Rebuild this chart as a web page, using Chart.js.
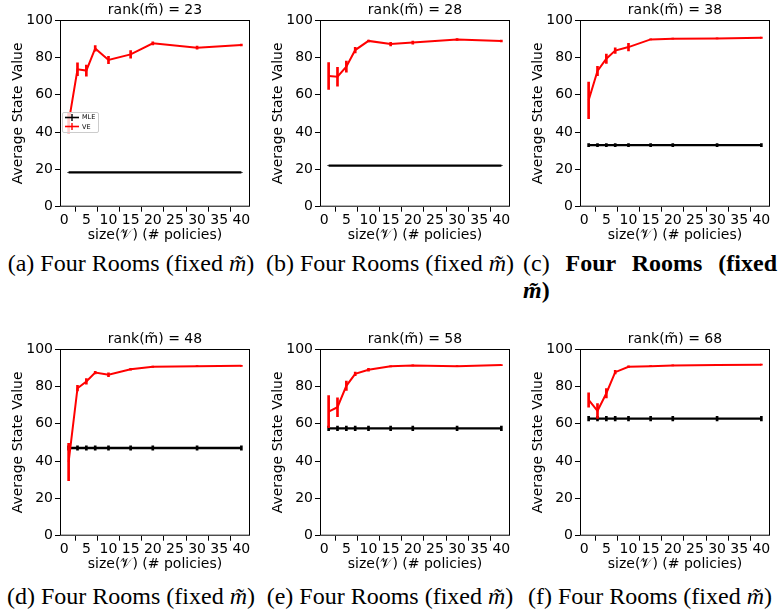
<!DOCTYPE html>
<html>
<head>
<meta charset="utf-8">
<script src="https://cdn.jsdelivr.net/npm/chart.js@4.4.0/dist/chart.umd.min.js"></script>
<style>
  body { margin: 0; width: 779px; height: 613px; overflow: hidden; background: #fff; position: relative; }
  .panel { position: absolute; width: 260px; height: 250px; }
  .cap { position: absolute; font-family: "Liberation Serif", "DejaVu Serif", serif; font-size: 24px; line-height: 27px; color: #000; white-space: nowrap; text-align: center; width: 260px; }
  .cap.wrap { white-space: normal; text-align: justify; width: 254px; text-align-last: left; }
  .legend { position: absolute; left: 62px; top: 112px; width: 37px; height: 21px; border: 1px solid #ccc; border-radius: 2px; background: rgba(255,255,255,0.8); font-family: "DejaVu Sans", sans-serif; font-size: 6.5px; box-sizing: border-box; }
  .legend div { height: 9.5px; line-height: 9.5px; white-space: nowrap; }
  .legend svg { vertical-align: middle; margin: 0 3px 0 2px; }
</style>
</head>
<body>
<canvas id="c23" class="panel" width="260" height="250" style="left:0;top:0"></canvas>
<canvas id="c28" class="panel" width="260" height="250" style="left:260px;top:0"></canvas>
<canvas id="c38" class="panel" width="260" height="250" style="left:520px;top:0"></canvas>
<canvas id="c48" class="panel" width="260" height="250" style="left:0;top:329px"></canvas>
<canvas id="c58" class="panel" width="260" height="250" style="left:260px;top:329px"></canvas>
<canvas id="c68" class="panel" width="260" height="250" style="left:520px;top:329px"></canvas>

<div class="legend">
  <div><svg width="14" height="7"><line x1="0" y1="3.5" x2="14" y2="3.5" stroke="black" stroke-width="1.6"/><line x1="7" y1="0" x2="7" y2="7" stroke="black" stroke-width="1.4"/></svg>MLE</div>
  <div><svg width="14" height="7"><line x1="0" y1="3.5" x2="14" y2="3.5" stroke="red" stroke-width="1.6"/><line x1="7" y1="0" x2="7" y2="7" stroke="red" stroke-width="1.4"/></svg>VE</div>
</div>

<div class="cap" style="left:1px;top:250px">(a) Four Rooms (fixed <i>m&#771;</i>)</div>
<div class="cap" style="left:260px;top:250px">(b) Four Rooms (fixed <i>m&#771;</i>)</div>
<div class="cap wrap" style="left:523px;top:250px">(c) <b>Four Rooms (fixed <i>m&#771;</i>)</b></div>
<div class="cap" style="left:1px;top:583px">(d) Four Rooms (fixed <i>m&#771;</i>)</div>
<div class="cap" style="left:260px;top:583px">(e) Four Rooms (fixed <i>m&#771;</i>)</div>
<div class="cap" style="left:520px;top:583px">(f) Four Rooms (fixed <i>m&#771;</i>)</div>

<script>
// number of policies on the x axis
var sizes = [1, 3, 5, 7, 10, 15, 20, 30, 40];
var xTicks = [0, 5, 10, 15, 20, 25, 30, 35, 40];
var yTicks = [0, 20, 40, 60, 80, 100];

// MLE (flat) per rank
var mle23 = [18.4, 18.4, 18.4, 18.4, 18.4, 18.4, 18.4, 18.4, 18.4];
var mle28 = [22.0, 22.0, 22.0, 22.0, 22.0, 22.0, 22.0, 22.0, 22.0];
var mle38 = [33.0, 33.0, 33.0, 33.0, 33.0, 33.0, 33.0, 33.0, 33.0];
var mle48 = [47.0, 47.0, 47.0, 47.0, 47.0, 47.0, 47.0, 47.0, 47.0];
var mle58 = [57.5, 57.5, 57.5, 57.5, 57.5, 57.5, 57.5, 57.5, 57.5];
var mle68 = [62.7, 62.7, 62.7, 62.7, 62.7, 62.7, 62.7, 62.7, 62.7];
var mleErr23 = [0, 0, 0, 0, 0, 0, 0, 0, 0];
var mleErr28 = [0, 0, 0, 0, 0, 0, 0, 0, 0];
var mleErr38 = [0.8, 0.8, 0.8, 0.8, 0.8, 0.8, 0.8, 0.8, 0.8];
var mleErr48 = [1.2, 1.2, 1.2, 1.2, 1.2, 1.2, 1.2, 1.2, 1.2];
var mleErr58 = [1.2, 1.2, 1.2, 1.2, 1.2, 1.2, 1.2, 1.2, 1.2];
var mleErr68 = [1.2, 1.2, 1.2, 1.2, 1.2, 1.2, 1.2, 1.2, 1.2];

// VE mean and error per rank
var ve23 = [45.0, 73.6, 72.9, 84.8, 78.6, 81.6, 87.5, 85.2, 86.6];
var ve28 = [70.0, 69.6, 75.0, 83.9, 88.8, 87.1, 87.9, 89.5, 88.8];
var ve38 = [57.0, 72.7, 79.3, 83.6, 85.5, 89.6, 90.0, 90.1, 90.5];
var ve48 = [39.5, 79.0, 82.6, 87.4, 86.2, 89.2, 90.5, 90.8, 91.0];
var ve58 = [66.5, 68.8, 80.3, 86.7, 88.9, 90.7, 91.2, 90.8, 91.4];
var ve68 = [72.7, 66.8, 76.3, 87.6, 90.5, 90.8, 91.2, 91.4, 91.6];
var veErr23 = [5.5, 3.4, 3.0, 1.5, 2.0, 2.0, 0.8, 0.8, 0.5];
var veErr28 = [7.2, 5.0, 3.0, 1.5, 0.5, 1.0, 0.8, 0.5, 0.5];
var veErr38 = [9.8, 2.5, 2.5, 1.5, 2.0, 0.3, 0.3, 0.3, 0.3];
var veErr48 = [10.0, 1.5, 1.5, 0.7, 1.0, 0.5, 0.3, 0.3, 0.3];
var veErr58 = [8.6, 5.0, 2.5, 1.0, 0.8, 0.3, 0.3, 0.3, 0.3];
var veErr68 = [3.8, 4.0, 2.5, 1.0, 0.5, 0.3, 0.3, 0.3, 0.3];

var font = "'DejaVu Sans', sans-serif";

var framePlugin = {
    id: 'frame',
    afterDraw: function(chart) {
        var a = chart.chartArea;
        var ctx = chart.ctx;
        ctx.save();
        ctx.strokeStyle = 'black';
        ctx.lineWidth = 1;
        ctx.strokeRect(a.left + 0.5, a.top + 0.5, a.right - a.left - 1, a.bottom - a.top - 1);
        ctx.restore();
    }
};

function points(vals) {
    return sizes.map(function(x, i) { return {x: x, y: vals[i]}; });
}

function errors(vals, errs) {
    return sizes.map(function(x, i) { return {x: x, y: [vals[i] - errs[i], vals[i] + errs[i]]}; });
}

function createPanel(canvasId, rank, mle, mleErr, ve, veErr) {
    var ctx = document.getElementById(canvasId).getContext('2d');
    return new Chart(ctx, {
        type: 'line',
        data: {
            datasets: [
                { label: 'MLE', data: points(mle), xAxisID: 'x', yAxisID: 'y', borderColor: 'black', borderWidth: 2.4, pointRadius: 0, order: 2 },
                { type: 'bar', label: 'MLE err', data: errors(mle, mleErr), xAxisID: 'x', yAxisID: 'y', backgroundColor: 'black', barThickness: 2, grouped: false, order: 2 },
                { label: 'VE', data: points(ve), xAxisID: 'x', yAxisID: 'y', borderColor: 'red', borderWidth: 2, pointRadius: 0, order: 1 },
                { type: 'bar', label: 'VE err', data: errors(ve, veErr), xAxisID: 'x', yAxisID: 'y', backgroundColor: 'red', barThickness: 2, grouped: false, order: 1 }
            ]
        },
        options: {
            responsive: false,
            animation: false,
            layout: { padding: { left: 0, right: 10, top: 0, bottom: 0 } },
            plugins: {
                legend: { display: false },
                tooltip: { enabled: false }
            },
            scales: {
                x: {
                    type: 'linear',
                    min: -0.95,
                    max: 41.95,
                    offset: false,
                    afterBuildTicks: function(scale) {
                        scale.ticks = xTicks.map(function(v) { return {value: v}; });
                    },
                    afterFit: function(scale) { scale.height = 43.3; },
                    grid: { display: true, drawOnChartArea: false, drawTicks: true, tickLength: 5, color: 'black' },
                    border: { display: false },
                    ticks: { autoSkip: false, maxRotation: 0, padding: 0, color: 'black', font: { family: font, size: 14 } },
                    title: {
                        display: true,
                        text: 'size(\uD835\uDCB1) (# policies)',
                        color: 'black',
                        font: { family: font, size: 14, lineHeight: 1.2 },
                        padding: { top: 0, bottom: 6.6 }
                    }
                },
                y: {
                    min: 0,
                    max: 100,
                    afterBuildTicks: function(scale) {
                        scale.ticks = yTicks.map(function(v) { return {value: v}; });
                    },
                    afterFit: function(scale) { scale.width = 60; },
                    grid: { display: true, drawOnChartArea: false, drawTicks: true, tickLength: 5, color: 'black' },
                    border: { display: false },
                    ticks: { padding: 2, color: 'black', font: { family: font, size: 14 } },
                    title: {
                        display: true,
                        text: 'Average State Value',
                        color: 'black',
                        font: { family: font, size: 14, lineHeight: 1.2 },
                        padding: { top: 9.6, bottom: 0 }
                    }
                },
                // top axis only carries the panel title so it centres over the plot box
                top: {
                    type: 'linear',
                    position: 'top',
                    axis: 'x',
                    grid: { display: false, drawTicks: false },
                    border: { display: false },
                    ticks: { display: false },
                    afterFit: function(scale) { scale.height = 20; },
                    title: {
                        display: true,
                        text: 'rank(m\u0303) = ' + rank,
                        color: 'black',
                        font: { family: font, size: 14, lineHeight: 1.2 },
                        padding: { top: 1.6, bottom: 1.6 }
                    }
                }
            }
        },
        plugins: [framePlugin]
    });
}

createPanel('c23', 23, mle23, mleErr23, ve23, veErr23);
createPanel('c28', 28, mle28, mleErr28, ve28, veErr28);
createPanel('c38', 38, mle38, mleErr38, ve38, veErr38);
createPanel('c48', 48, mle48, mleErr48, ve48, veErr48);
createPanel('c58', 58, mle58, mleErr58, ve58, veErr58);
createPanel('c68', 68, mle68, mleErr68, ve68, veErr68);
</script>
</body>
</html>
